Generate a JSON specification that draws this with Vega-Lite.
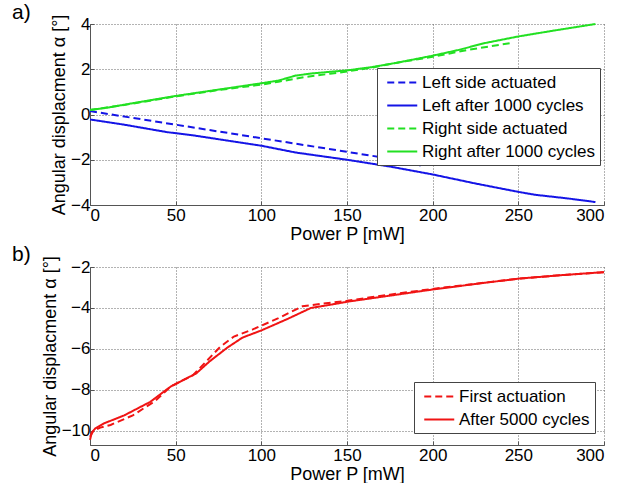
{
  "$schema": "https://vega.github.io/schema/vega-lite/v6.json",
  "padding": {"left": 12, "top": 2, "right": 5, "bottom": 0},
  "spacing": 0,
  "config": {
    "font": "Liberation Sans",
    "view": {"stroke": null},
    "axis": {
      "labelFontSize": 17,
      "labelColor": "#000",
      "titleFontSize": 18,
      "titleFontWeight": "normal",
      "titleColor": "#000",
      "domainColor": "#555",
      "domainWidth": 1,
      "tickColor": "#555",
      "tickSize": -4,
      "labelPadding": 6,
      "gridColor": "#666",
      "gridDash": [1, 2],
      "gridWidth": 1,
      "gridOpacity": 1,
      "titlePadding": 2
    },
    "axisY": {"labelPadding": 4, "titlePadding": 2},
    "legend": {
      "symbolType": "M-0.5,0H3.03",
      "symbolStrokeWidth": 2,
      "symbolSize": 289,
      "labelFontSize": 17,
      "labelColor": "#000",
      "labelLimit": 400,
      "labelOffset": 21,
      "rowPadding": 5,
      "padding": 5,
      "strokeColor": "#444",
      "fillColor": "white",
      "cornerRadius": 0
    },
    "title": {"fontSize": 21, "fontWeight": "normal", "color": "#000"}
  },
  "datasets": {
    "a": [
      {"series": "Left side actuated", "P": 0, "alpha": 0.15},
      {"series": "Left side actuated", "P": 25, "alpha": -0.15},
      {"series": "Left side actuated", "P": 50, "alpha": -0.45},
      {"series": "Left side actuated", "P": 75, "alpha": -0.75},
      {"series": "Left side actuated", "P": 100, "alpha": -1.05},
      {"series": "Left side actuated", "P": 125, "alpha": -1.35},
      {"series": "Left side actuated", "P": 150, "alpha": -1.65},
      {"series": "Left side actuated", "P": 175, "alpha": -1.95},
      {"series": "Left side actuated", "P": 193, "alpha": -2.25},
      {"series": "Left after 1000 cycles", "P": 0, "alpha": -0.22},
      {"series": "Left after 1000 cycles", "P": 20, "alpha": -0.45},
      {"series": "Left after 1000 cycles", "P": 45, "alpha": -0.78},
      {"series": "Left after 1000 cycles", "P": 60, "alpha": -0.92},
      {"series": "Left after 1000 cycles", "P": 80, "alpha": -1.15},
      {"series": "Left after 1000 cycles", "P": 100, "alpha": -1.38},
      {"series": "Left after 1000 cycles", "P": 120, "alpha": -1.68},
      {"series": "Left after 1000 cycles", "P": 150, "alpha": -2.0},
      {"series": "Left after 1000 cycles", "P": 175, "alpha": -2.3},
      {"series": "Left after 1000 cycles", "P": 200, "alpha": -2.65},
      {"series": "Left after 1000 cycles", "P": 225, "alpha": -3.05},
      {"series": "Left after 1000 cycles", "P": 250, "alpha": -3.42},
      {"series": "Left after 1000 cycles", "P": 260, "alpha": -3.55},
      {"series": "Left after 1000 cycles", "P": 280, "alpha": -3.72},
      {"series": "Left after 1000 cycles", "P": 295, "alpha": -3.87},
      {"series": "Right side actuated", "P": 0, "alpha": 0.2},
      {"series": "Right side actuated", "P": 25, "alpha": 0.48},
      {"series": "Right side actuated", "P": 50, "alpha": 0.8},
      {"series": "Right side actuated", "P": 75, "alpha": 1.08},
      {"series": "Right side actuated", "P": 100, "alpha": 1.32},
      {"series": "Right side actuated", "P": 110, "alpha": 1.45},
      {"series": "Right side actuated", "P": 125, "alpha": 1.65},
      {"series": "Right side actuated", "P": 140, "alpha": 1.8},
      {"series": "Right side actuated", "P": 150, "alpha": 1.9},
      {"series": "Right side actuated", "P": 165, "alpha": 2.08},
      {"series": "Right side actuated", "P": 180, "alpha": 2.3},
      {"series": "Right side actuated", "P": 200, "alpha": 2.55},
      {"series": "Right side actuated", "P": 220, "alpha": 2.85},
      {"series": "Right side actuated", "P": 245, "alpha": 3.15},
      {"series": "Right after 1000 cycles", "P": 0, "alpha": 0.2},
      {"series": "Right after 1000 cycles", "P": 10, "alpha": 0.3},
      {"series": "Right after 1000 cycles", "P": 25, "alpha": 0.5},
      {"series": "Right after 1000 cycles", "P": 50, "alpha": 0.82},
      {"series": "Right after 1000 cycles", "P": 75, "alpha": 1.1},
      {"series": "Right after 1000 cycles", "P": 100, "alpha": 1.38},
      {"series": "Right after 1000 cycles", "P": 110, "alpha": 1.5},
      {"series": "Right after 1000 cycles", "P": 120, "alpha": 1.72},
      {"series": "Right after 1000 cycles", "P": 130, "alpha": 1.82},
      {"series": "Right after 1000 cycles", "P": 150, "alpha": 1.95},
      {"series": "Right after 1000 cycles", "P": 165, "alpha": 2.1},
      {"series": "Right after 1000 cycles", "P": 180, "alpha": 2.3},
      {"series": "Right after 1000 cycles", "P": 200, "alpha": 2.6},
      {"series": "Right after 1000 cycles", "P": 215, "alpha": 2.85},
      {"series": "Right after 1000 cycles", "P": 230, "alpha": 3.15},
      {"series": "Right after 1000 cycles", "P": 250, "alpha": 3.45},
      {"series": "Right after 1000 cycles", "P": 270, "alpha": 3.7},
      {"series": "Right after 1000 cycles", "P": 295, "alpha": 4.0}
    ],
    "b": [
      {"series": "First actuation", "P": 0, "alpha": -10.3},
      {"series": "First actuation", "P": 2, "alpha": -10.0},
      {"series": "First actuation", "P": 6, "alpha": -9.85},
      {"series": "First actuation", "P": 12, "alpha": -9.72},
      {"series": "First actuation", "P": 25, "alpha": -9.25},
      {"series": "First actuation", "P": 38, "alpha": -8.55},
      {"series": "First actuation", "P": 47, "alpha": -7.85},
      {"series": "First actuation", "P": 55, "alpha": -7.5},
      {"series": "First actuation", "P": 60, "alpha": -7.3},
      {"series": "First actuation", "P": 68, "alpha": -6.6},
      {"series": "First actuation", "P": 76, "alpha": -5.9},
      {"series": "First actuation", "P": 84, "alpha": -5.4},
      {"series": "First actuation", "P": 95, "alpha": -5.05},
      {"series": "First actuation", "P": 110, "alpha": -4.5},
      {"series": "First actuation", "P": 124, "alpha": -3.92},
      {"series": "First actuation", "P": 135, "alpha": -3.8},
      {"series": "First actuation", "P": 150, "alpha": -3.65},
      {"series": "First actuation", "P": 175, "alpha": -3.35},
      {"series": "First actuation", "P": 200, "alpha": -3.07},
      {"series": "First actuation", "P": 225, "alpha": -2.82},
      {"series": "First actuation", "P": 250, "alpha": -2.57},
      {"series": "First actuation", "P": 275, "alpha": -2.4},
      {"series": "First actuation", "P": 300, "alpha": -2.25},
      {"series": "After 5000 cycles", "P": 0, "alpha": -10.45},
      {"series": "After 5000 cycles", "P": 1, "alpha": -10.1},
      {"series": "After 5000 cycles", "P": 3, "alpha": -9.9},
      {"series": "After 5000 cycles", "P": 8, "alpha": -9.65},
      {"series": "After 5000 cycles", "P": 20, "alpha": -9.25},
      {"series": "After 5000 cycles", "P": 35, "alpha": -8.6},
      {"series": "After 5000 cycles", "P": 47, "alpha": -7.85},
      {"series": "After 5000 cycles", "P": 55, "alpha": -7.5},
      {"series": "After 5000 cycles", "P": 62, "alpha": -7.2},
      {"series": "After 5000 cycles", "P": 70, "alpha": -6.6},
      {"series": "After 5000 cycles", "P": 80, "alpha": -5.95},
      {"series": "After 5000 cycles", "P": 89, "alpha": -5.45},
      {"series": "After 5000 cycles", "P": 100, "alpha": -5.1},
      {"series": "After 5000 cycles", "P": 115, "alpha": -4.55},
      {"series": "After 5000 cycles", "P": 129, "alpha": -4.0},
      {"series": "After 5000 cycles", "P": 140, "alpha": -3.85},
      {"series": "After 5000 cycles", "P": 150, "alpha": -3.7},
      {"series": "After 5000 cycles", "P": 175, "alpha": -3.4},
      {"series": "After 5000 cycles", "P": 200, "alpha": -3.1},
      {"series": "After 5000 cycles", "P": 225, "alpha": -2.83},
      {"series": "After 5000 cycles", "P": 250, "alpha": -2.57},
      {"series": "After 5000 cycles", "P": 275, "alpha": -2.4},
      {"series": "After 5000 cycles", "P": 300, "alpha": -2.25}
    ]
  },
  "vconcat": [
    {
      "width": 514,
      "height": 181,
      "title": {"text": "a)", "anchor": "start", "frame": "group", "dx": -78, "offset": -9},
      "data": {"name": "a"},
      "mark": {"type": "line", "strokeWidth": 2},
      "encoding": {
        "x": {"field": "P", "type": "quantitative", "scale": {"domain": [0, 300], "nice": false}, "axis": {"title": "Power P [mW]", "values": [0, 50, 100, 150, 200, 250, 300]}},
        "y": {"field": "alpha", "type": "quantitative", "scale": {"domain": [-4, 4], "nice": false}, "axis": {"title": "Angular displacment α [°]", "values": [-4, -2, 0, 2, 4]}},
        "color": {"field": "series", "type": "nominal", "scale": {"domain": ["Left side actuated", "Left after 1000 cycles", "Right side actuated", "Right after 1000 cycles"], "range": ["#1414e6", "#1414e6", "#22e022", "#22e022"]}, "legend": {"title": null, "orient": "none", "legendX": 287, "legendY": 44}},
        "strokeDash": {"field": "series", "type": "nominal", "scale": {"domain": ["Left side actuated", "Left after 1000 cycles", "Right side actuated", "Right after 1000 cycles"], "range": [[7, 4], [1, 0], [7, 4], [1, 0]]}, "legend": {"title": null, "orient": "none", "legendX": 287, "legendY": 44}}
      }
    },
    {
      "width": 514,
      "height": 178,
      "title": {"text": "b)", "anchor": "start", "frame": "group", "dx": -78, "offset": -9},
      "data": {"name": "b"},
      "mark": {"type": "line", "strokeWidth": 2},
      "encoding": {
        "x": {"field": "P", "type": "quantitative", "scale": {"domain": [0, 300], "nice": false}, "axis": {"title": "Power P [mW]", "values": [0, 50, 100, 150, 200, 250, 300]}},
        "y": {"field": "alpha", "type": "quantitative", "scale": {"domain": [-10.7, -2], "nice": false, "zero": false}, "axis": {"title": "Angular displacment α [°]", "values": [-10, -8, -6, -4, -2]}},
        "color": {"field": "series", "type": "nominal", "scale": {"domain": ["First actuation", "After 5000 cycles"], "range": ["#f01414", "#f01414"]}, "legend": {"title": null, "orient": "none", "legendX": 324, "legendY": 115}},
        "strokeDash": {"field": "series", "type": "nominal", "scale": {"domain": ["First actuation", "After 5000 cycles"], "range": [[7, 4], [1, 0]]}, "legend": {"title": null, "orient": "none", "legendX": 324, "legendY": 115}}
      }
    }
  ],
  "resolve": {"scale": {"color": "independent", "strokeDash": "independent"}}
}
